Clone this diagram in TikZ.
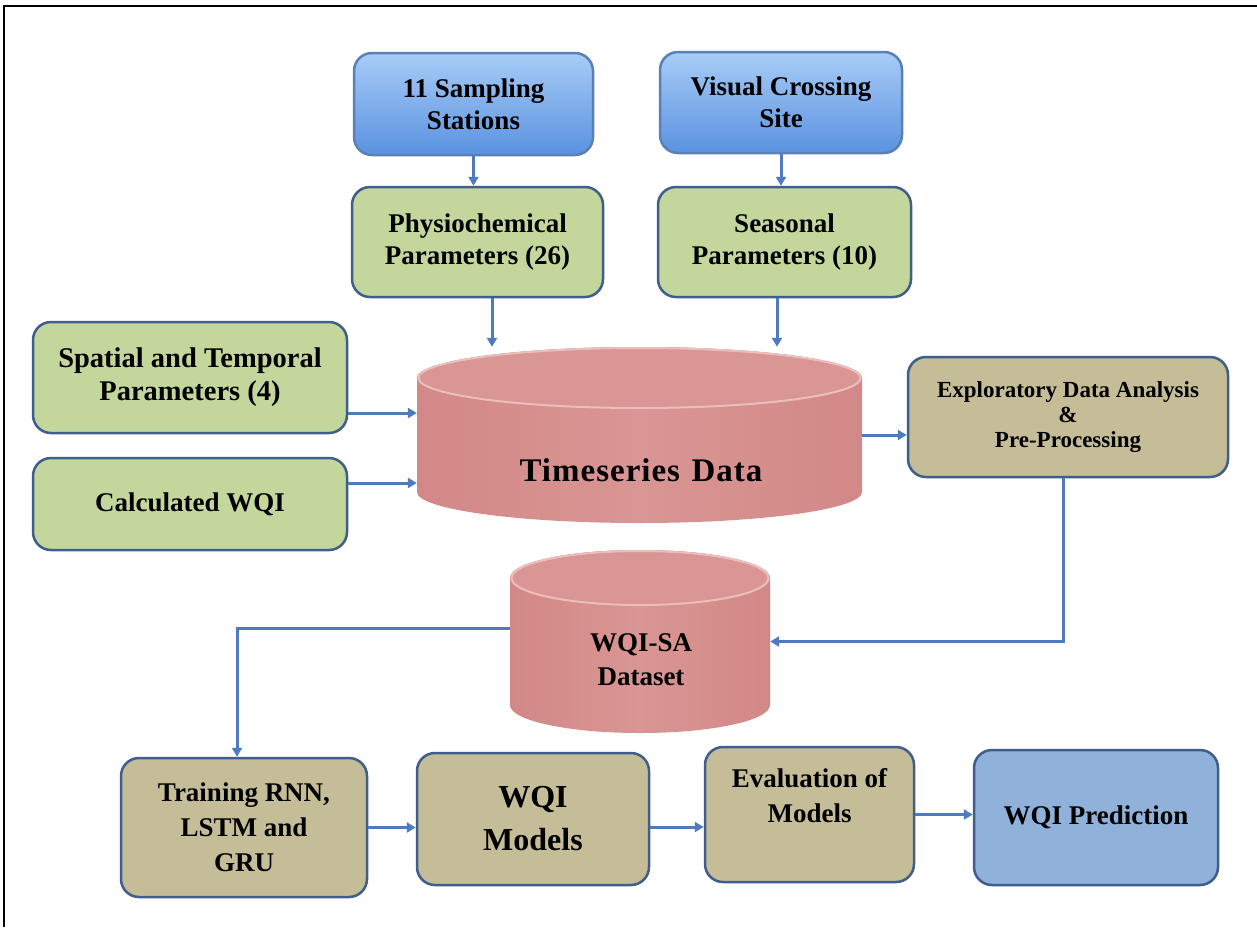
\documentclass[tikz,border=0pt]{standalone}
\usepackage{fontspec}
\setmainfont{Liberation Serif}
\newfontfamily\tsfont[LetterSpace=3]{Liberation Serif}
\usetikzlibrary{arrows.meta,calc}
\definecolor{boxline}{HTML}{3F5E8C}
\definecolor{blueline}{HTML}{5B80B5}
\definecolor{bluetop}{HTML}{A8CCF7}
\definecolor{bluebot}{HTML}{5A92E0}
\definecolor{boxgreen}{HTML}{C3D69B}
\definecolor{boxtan}{HTML}{C4BD97}
\definecolor{predblue}{HTML}{8FB1DA}
\definecolor{rose}{HTML}{D99694}
\definecolor{roseside}{HTML}{D28886}
\definecolor{rim}{HTML}{EBBDBB}
\definecolor{arrowblue}{HTML}{4E7AC0}
\begin{document}
\begin{tikzpicture}[x=1pt,y=-1pt,
  box/.style={draw=boxline, line width=2.5pt, rounded corners=18pt, align=center, inner sep=2pt, font=\fontsize{27}{32}\selectfont\bfseries},
  greenbox/.style={box, fill=boxgreen},
  tanbox/.style={box, fill=boxtan},
  bluebox/.style={box, draw=blueline, top color=bluetop, bottom color=bluebot},
  predbox/.style={box, fill=predblue},
  conn/.style={draw=arrowblue, line width=3pt, -{Triangle[length=9pt,width=10pt]}},
  cyltext/.style={align=center, inner sep=0pt},
  holder/.style={inner sep=0pt, draw=none},
]
\useasboundingbox (0,0) rectangle (1257,927);
\fill[white] (0,0) rectangle (1257,927);
% frame
\draw[line width=2pt, black] (4,927) -- (4,6) -- (1257,6);

% ---- cylinders ----
% Timeseries: x 417-862, top ellipse center 378, bottom ellipse center 492
\shade[left color=roseside, right color=roseside, middle color=rose]
  (417,378) -- (417,492) arc[start angle=180, end angle=0, x radius=222.5, y radius=31]
  -- (862,378) arc[start angle=0, end angle=-180, x radius=222.5, y radius=31] -- cycle;
\fill[rose] (639.5,378) ellipse[x radius=222.5, y radius=31];
\draw[rim, line width=2pt] (639.5,378) ellipse[x radius=221, y radius=30];
\node[holder, minimum width=445pt, minimum height=176pt] (ts) at (639.5,435) {};
\node[cyltext, font=\fontsize{33}{38}\selectfont\bfseries\tsfont] (tstext) at (641,470) {Timeseries\hspace{0.35em}Data};

% WQI-SA: x 510-770, top ellipse center 578, bottom ellipse center 705
\shade[left color=roseside, right color=roseside, middle color=rose]
  (510,578) -- (510,705) arc[start angle=180, end angle=0, x radius=130, y radius=28]
  -- (770,578) arc[start angle=0, end angle=-180, x radius=130, y radius=28] -- cycle;
\fill[rose] (640,578) ellipse[x radius=130, y radius=28];
\draw[rim, line width=2pt] (640,578) ellipse[x radius=128.5, y radius=27];
\node[holder, minimum width=260pt, minimum height=183pt] (wq) at (640,641.5) {};
\node[cyltext, font=\fontsize{27}{34}\selectfont\bfseries] (wqtext) at (641,660) {WQI-SA\\Dataset};

% ---- boxes ----
\node[bluebox, minimum width=239pt, minimum height=102pt] (samp) at (473.5,104) {11 Sampling\\Stations};
\node[bluebox, minimum width=242pt, minimum height=101pt] (vis) at (781,102.5) {Visual Crossing\\Site};
\node[greenbox, minimum width=251pt, minimum height=110pt] (phys) at (477.5,242) {Physiochemical\\Parameters (26)};
\node[greenbox, minimum width=253pt, minimum height=110pt] (seas) at (784.5,242) {Seasonal\\Parameters (10)};
\node[greenbox, minimum width=314pt, minimum height=111pt, font=\fontsize{28.5}{33}\selectfont\bfseries] (spat) at (190,377.5) {Spatial and Temporal\\Parameters (4)};
\node[greenbox, minimum width=314pt, minimum height=92pt] (calc) at (190,504) {Calculated WQI};
\node[tanbox, minimum width=320pt, minimum height=120pt, font=\fontsize{23}{25}\selectfont\bfseries] (eda) at (1068,417) {Exploratory Data Analysis\\\&\\Pre-Processing};
\node[tanbox, minimum width=246pt, minimum height=139pt, font=\fontsize{27}{35}\selectfont\bfseries] (train) at (244,827.5) {Training RNN,\\LSTM and\\GRU};
\node[tanbox, minimum width=232pt, minimum height=132pt, font=\fontsize{32}{43}\selectfont\bfseries] (models) at (533,819) {WQI\\Models};
\node[tanbox, minimum width=209pt, minimum height=135pt, font=\fontsize{27}{35}\selectfont\bfseries] (eval) at (809.5,814.5) {Evaluation of\\Models\\[4pt]};
\node[predbox, minimum width=244pt, minimum height=135pt] (pred) at (1096,817.5) {WQI Prediction};

% ---- connector anchor points ----
\coordinate (spatout) at ($(spat.east)+(0,35.5)$);
\coordinate (calcout) at ($(calc.east)+(0,-21)$);
\coordinate (wqout) at ($(wq.west)+(0,-13)$);
\coordinate (modout) at ($(models.east)+(0,8)$);

% ---- connectors ----
\draw[conn] (samp.south) -- (samp.south |- phys.north);
\draw[conn] (vis.south) -- (vis.south |- seas.north);
\draw[conn] ([xshift=14.5pt]phys.south) -- ([xshift=14.5pt]phys.south |- ts.north);
\draw[conn] ([xshift=-7.5pt]seas.south) -- ([xshift=-7.5pt]seas.south |- ts.north);
\draw[conn] (spatout) -- (spatout -| ts.west);
\draw[conn] (calcout) -- (calcout -| ts.west);
\draw[conn] (ts.east) -- (ts.east -| eda.west);
\draw[conn] ([xshift=-5pt]eda.south) |- (wq.east);
\draw[conn] (wqout) -| ([xshift=-7pt]train.north);
\draw[conn] (train.east) -- (train.east -| models.west);
\draw[conn] (modout) -- (modout -| eval.west);
\draw[conn] (eval.east) -- (eval.east -| pred.west);
\end{tikzpicture}
\end{document}
